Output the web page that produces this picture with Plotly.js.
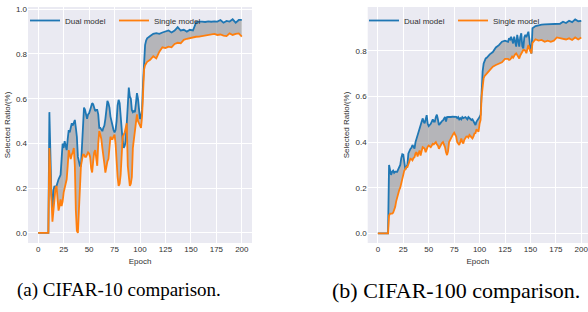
<!DOCTYPE html>
<html>
<head>
<meta charset="utf-8">
<script src="https://cdn.plot.ly/plotly-3.0.1.min.js"></script>
<style>
  html, body { margin: 0; padding: 0; background: #ffffff; }
  #chart { width: 588px; height: 312px; }
</style>
</head>
<body>
<div id="chart"></div>
<script>
// ---------- data ----------
function seq(a, b, s) { var r = []; for (var v = a; v <= b; v += s) r.push(v); return r; }

// epochs at which values were read (CIFAR-10 panel)
var epochsA = [0].concat(seq(10, 107, 1), seq(110, 200, 3));
// epochs at which values were read (CIFAR-100 panel)
var epochsB = [0].concat(seq(10, 107, 1), seq(110, 125, 3), seq(128, 152, 1), seq(155, 200, 3));

var dualC10 = [0,
  0, 0.54, 0.30, 0.17, 0.11, 0.19, 0.21, 0.20, 0.21, 0.23,
  0.24, 0.25, 0.26, 0.33, 0.40, 0.38, 0.41, 0.39, 0.37, 0.42,
  0.46, 0.45, 0.47, 0.49, 0.48, 0.50, 0.505, 0.47, 0.43, 0.34,
  0.31, 0.30, 0.30, 0.38, 0.50, 0.56, 0.55, 0.52, 0.51, 0.53,
  0.535, 0.55, 0.57, 0.58, 0.575, 0.56, 0.545, 0.55, 0.55, 0.53,
  0.47, 0.47, 0.46, 0.455, 0.47, 0.48, 0.51, 0.56, 0.59, 0.58,
  0.56, 0.52, 0.49, 0.48, 0.46, 0.45, 0.46, 0.50, 0.57, 0.595,
  0.58, 0.52, 0.45, 0.41, 0.38, 0.39, 0.41, 0.50, 0.58, 0.65,
  0.61, 0.60, 0.55, 0.54, 0.545, 0.54, 0.58, 0.625, 0.60, 0.54,
  0.51, 0.52, 0.55, 0.67, 0.80, 0.84, 0.86, 0.87,
  0.88, 0.89, 0.893, 0.89, 0.896, 0.90, 0.905, 0.896, 0.905, 0.92,
  0.905, 0.908, 0.90, 0.908, 0.905, 0.94, 0.945, 0.945, 0.943, 0.946,
  0.944, 0.946, 0.945, 0.952, 0.94, 0.948, 0.945, 0.955, 0.94, 0.952,
  0.952];

var singleC10 = [0,
  0, 0.38, 0.25, 0.14, 0.05, 0.10, 0.17, 0.20, 0.21, 0.16,
  0.10, 0.12, 0.15, 0.12, 0.14, 0.18, 0.20, 0.22, 0.24, 0.30,
  0.37, 0.35, 0.33, 0.35, 0.36, 0.38, 0.30, 0.10, 0.01, 0.00,
  0.08, 0.20, 0.30, 0.33, 0.35, 0.35, 0.34, 0.34, 0.35, 0.36,
  0.355, 0.34, 0.29, 0.27, 0.32, 0.36, 0.37, 0.34, 0.30, 0.40,
  0.455, 0.44, 0.42, 0.38, 0.33, 0.31, 0.27, 0.30, 0.32, 0.33,
  0.38, 0.43, 0.42, 0.42, 0.43, 0.44, 0.40, 0.30, 0.25, 0.21,
  0.22, 0.26, 0.35, 0.43, 0.44, 0.45, 0.47, 0.49, 0.30, 0.23,
  0.21, 0.22, 0.25, 0.38, 0.42, 0.435, 0.48, 0.53, 0.50, 0.49,
  0.48, 0.47, 0.52, 0.62, 0.73, 0.75, 0.76, 0.765,
  0.774, 0.79, 0.78, 0.81, 0.83, 0.826, 0.833, 0.83, 0.845, 0.85,
  0.848, 0.863, 0.868, 0.872, 0.875, 0.877, 0.878, 0.88, 0.882, 0.885,
  0.888, 0.89, 0.885, 0.887, 0.882, 0.88, 0.892, 0.885, 0.89, 0.892,
  0.878];

var dualC100 = [0,
  0, 0.30, 0.277, 0.256, 0.27, 0.275, 0.265, 0.27, 0.27, 0.27,
  0.28, 0.29, 0.30, 0.33, 0.347, 0.345, 0.32, 0.28, 0.29, 0.30,
  0.35, 0.365, 0.37, 0.375, 0.387, 0.38, 0.372, 0.40, 0.416, 0.43,
  0.445, 0.46, 0.475, 0.49, 0.504, 0.49, 0.482, 0.50, 0.518, 0.48,
  0.47, 0.475, 0.48, 0.49, 0.50, 0.49, 0.49, 0.51, 0.52, 0.50,
  0.475, 0.48, 0.49, 0.492, 0.495, 0.505, 0.51, 0.49, 0.51, 0.511,
  0.51, 0.511, 0.51, 0.512, 0.511, 0.512, 0.51, 0.511, 0.505, 0.51,
  0.50, 0.505, 0.50, 0.51, 0.505, 0.508, 0.51, 0.505, 0.50, 0.51,
  0.505, 0.50, 0.497, 0.50, 0.49, 0.48, 0.475, 0.49, 0.495, 0.50,
  0.51, 0.52, 0.64, 0.71, 0.745, 0.76, 0.767, 0.77,
  0.785, 0.795, 0.815, 0.825, 0.84, 0.845,
  0.84, 0.855, 0.85, 0.862, 0.84, 0.833, 0.862, 0.84, 0.819, 0.87,
  0.85, 0.819, 0.86, 0.877, 0.82, 0.811, 0.86, 0.87, 0.86, 0.87,
  0.884, 0.85, 0.80, 0.789, 0.899,
  0.909, 0.913, 0.915, 0.916, 0.917, 0.918, 0.918, 0.918, 0.919, 0.928,
  0.922, 0.932, 0.926, 0.938, 0.93, 0.932];

var singleC100 = [0,
  0, 0.078, 0.086, 0.086, 0.086, 0.09, 0.10, 0.115, 0.14, 0.16,
  0.18, 0.19, 0.20, 0.22, 0.24, 0.26, 0.276, 0.28, 0.29, 0.29,
  0.305, 0.31, 0.327, 0.325, 0.32, 0.33, 0.334, 0.35, 0.356, 0.337,
  0.35, 0.363, 0.341, 0.36, 0.378, 0.375, 0.371, 0.356, 0.37, 0.38,
  0.385, 0.382, 0.378, 0.385, 0.393, 0.39, 0.395, 0.40, 0.39, 0.385,
  0.371, 0.38, 0.393, 0.396, 0.40, 0.39, 0.378, 0.355, 0.343, 0.36,
  0.40, 0.409, 0.42, 0.43, 0.435, 0.441, 0.43, 0.424, 0.40, 0.39,
  0.387, 0.40, 0.416, 0.40, 0.394, 0.41, 0.42, 0.424, 0.425, 0.42,
  0.431, 0.425, 0.42, 0.416, 0.425, 0.438, 0.44, 0.456, 0.45, 0.446,
  0.48, 0.497, 0.60, 0.658, 0.68, 0.69, 0.694, 0.70,
  0.716, 0.731, 0.738, 0.745, 0.75, 0.765,
  0.765, 0.76, 0.762, 0.768, 0.775, 0.77, 0.78, 0.785, 0.789, 0.78,
  0.775, 0.767, 0.78, 0.79, 0.80, 0.804, 0.804, 0.80, 0.79, 0.81,
  0.826, 0.81, 0.795, 0.789, 0.835,
  0.851, 0.845, 0.848, 0.84, 0.845, 0.84, 0.845, 0.859, 0.855, 0.852,
  0.85, 0.855, 0.848, 0.859, 0.85, 0.859];

var seriesNames = ['Dual model', 'Single model'];
var xTicks = [0, 25, 50, 75, 100, 125, 150, 175, 200];
var yTicksA = [0, 0.2, 0.4, 0.6, 0.8, 1.0];
var yTicksB = [0, 0.2, 0.4, 0.6, 0.8];
var captions = ['(a) CIFAR-10 comparison.', '(b) CIFAR-100 comparison.'];

// ---------- style ----------
var BLUE = '#1f77b4', ORANGE = '#ff7f0e';
var FILL = 'rgba(128,128,128,0.5)';
var SANS = 'Liberation Sans, Arial, sans-serif';
var SERIF = 'Liberation Serif, Times New Roman, serif';
var TXT = '#303030';
var LW = 1.8;

function panel(ep, dual, single, xa, ya, lg) {
  return [
    { x: ep, y: dual, mode: 'lines', line: { width: 0, color: BLUE }, showlegend: false,
      hoverinfo: 'skip', xaxis: xa, yaxis: ya },
    { x: ep, y: single, mode: 'lines', line: { width: 0, color: ORANGE }, fill: 'tonexty',
      fillcolor: FILL, showlegend: false, hoverinfo: 'skip', xaxis: xa, yaxis: ya },
    { x: ep, y: dual, mode: 'lines', name: seriesNames[0], line: { width: LW, color: BLUE },
      xaxis: xa, yaxis: ya, legend: lg },
    { x: ep, y: single, mode: 'lines', name: seriesNames[1], line: { width: LW, color: ORANGE },
      xaxis: xa, yaxis: ya, legend: lg }
  ];
}

var data = [].concat(
  panel(epochsA, dualC10, singleC10, 'x', 'y', 'legend'),
  panel(epochsB, dualC100, singleC100, 'x2', 'y2', 'legend2')
);

var H = 312, W = 588;
var yDom = [(H - 243) / H, (H - 7) / H];

function xAxis(dom, rng, anchor) {
  return {
    domain: dom, range: rng, anchor: anchor, tickvals: xTicks,
    showgrid: true, gridcolor: '#ffffff', gridwidth: 1, zeroline: false, showline: false,
    ticks: '', ticklabeloverflow: 'allow', tickfont: { family: SANS, size: 8, color: TXT },
    title: { text: 'Epoch', font: { family: SANS, size: 8, color: TXT }, standoff: 5 },
    automargin: false, fixedrange: true
  };
}
function yAxis(rng, anchor, tv) {
  return {
    domain: yDom, range: rng, anchor: anchor, tickvals: tv, tickformat: '.1f',
    showgrid: true, gridcolor: '#ffffff', gridwidth: 1, zeroline: false, showline: false,
    ticks: '', tickfont: { family: SANS, size: 8, color: TXT },
    title: { text: 'Selected Ratio/(%)', font: { family: SANS, size: 8, color: TXT }, standoff: 4 },
    automargin: false, fixedrange: true
  };
}

function legendAt(xpx) {
  return {
    x: xpx / W, y: (H - 6) / H, xanchor: 'left', yanchor: 'top', orientation: 'h',
    traceorder: 'normal', entrywidth: 44, entrywidthmode: 'pixels',
    bgcolor: 'rgba(0,0,0,0)', borderwidth: 0, itemwidth: 30,
    font: { family: SANS, size: 8, color: TXT }
  };
}

var layout = {
  width: W, height: H,
  margin: { l: 0, r: 0, t: 0, b: 0 },
  paper_bgcolor: '#ffffff', plot_bgcolor: '#eaeaf2',
  xaxis: xAxis([28 / W, 252 / W], [-10, 210], 'y'),
  yaxis: yAxis([-0.045, 1.01], 'x', yTicksA),
  xaxis2: xAxis([367.7 / W, 1], [-10, 206.6], 'y2'),
  yaxis2: yAxis([-0.0425, 0.9925], 'x2', yTicksB),
  legend: legendAt(25),
  legend2: legendAt(364),
  annotations: [
    { text: captions[0], xref: 'paper', yref: 'paper', x: 119 / W, y: (H - 290) / H,
      xanchor: 'center', yanchor: 'middle', showarrow: false,
      font: { family: SERIF, size: 19, color: '#000' } },
    { text: captions[1], xref: 'paper', yref: 'paper', x: 330 / W, y: (H - 290) / H,
      xanchor: 'left', yanchor: 'middle', showarrow: false,
      font: { family: SERIF, size: 22, color: '#000' } }
  ],
  showlegend: true
};

Plotly.newPlot('chart', data, layout, { staticPlot: true, displayModeBar: false });
</script>
</body>
</html>
